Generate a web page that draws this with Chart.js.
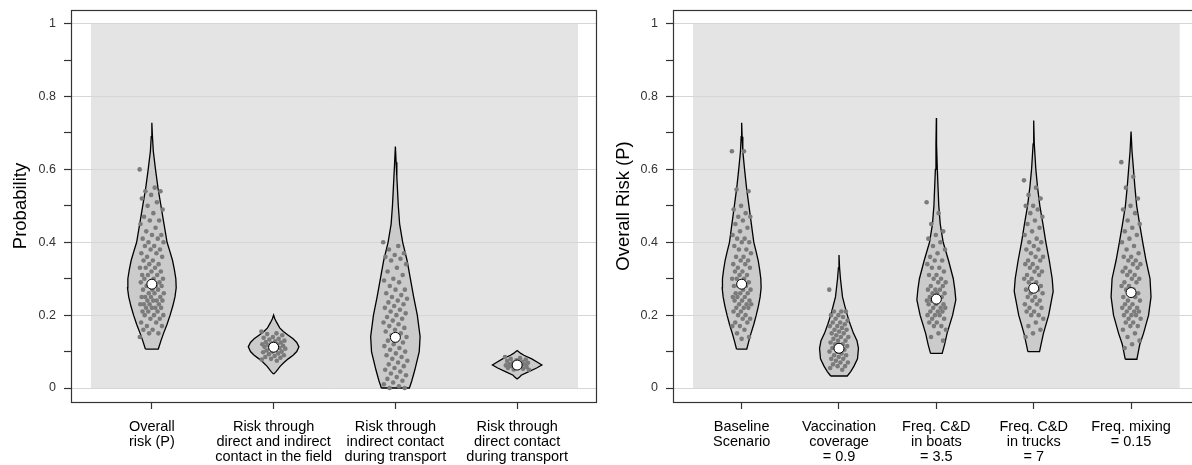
<!DOCTYPE html>
<html>
<head>
<meta charset="utf-8">
<script src="https://cdn.jsdelivr.net/npm/chart.js@4.4.1/dist/chart.umd.min.js"></script>
<style>
  html, body { margin: 0; background: #fff; overflow: hidden; }
  #wrap { position: relative; width: 1192px; height: 465px; overflow: hidden; }
  #left { position: absolute; left: 0; top: 0; }
  #right { position: absolute; left: 600px; top: 0; }
</style>
</head>
<body>
<div id="wrap">
  <canvas id="left" width="602" height="465"></canvas>
  <canvas id="right" width="605" height="465"></canvas>
</div>
<script>
// === Données ===
const leftLabels = [
  ['Overall', 'risk (P)'],
  ['Risk through', 'direct and indirect', 'contact in the field'],
  ['Risk through', 'indirect contact', 'during transport'],
  ['Risk through', 'direct contact', 'during transport']
];
const rightLabels = [
  ['Baseline', 'Scenario'],
  ['Vaccination', 'coverage', '= 0.9'],
  ['Freq. C&D', 'in boats', '= 3.5'],
  ['Freq. C&D', 'in trucks', '= 7'],
  ['Freq. mixing', '= 0.15']
];
const yTicks = [0, 0.1, 0.2, 0.3, 0.4, 0.5, 0.6, 0.7, 0.8, 0.9, 1];

// profils des violons : [valeur, demi-largeur de densité]
const violinOverall = [[0.107,0.053],[0.13,0.075],[0.15,0.096],[0.175,0.125],[0.2,0.15],[0.225,0.172],[0.25,0.19],[0.275,0.2],[0.3,0.197],[0.325,0.185],[0.35,0.17],[0.375,0.148],[0.4,0.125],[0.45,0.1],[0.5,0.075],[0.55,0.05],[0.6,0.03],[0.65,0.012],[0.69,0.005],[0.728,0]];
const violinField = [[0.038,0],[0.045,0.02],[0.06,0.055],[0.07,0.085],[0.08,0.12],[0.09,0.16],[0.1,0.19],[0.113,0.208],[0.125,0.19],[0.135,0.16],[0.145,0.12],[0.155,0.08],[0.165,0.05],[0.18,0.025],[0.19,0.01],[0.2,0]];
const violinIndirect = [[0,0.115],[0.02,0.135],[0.05,0.16],[0.1,0.196],[0.141,0.203],[0.2,0.18],[0.25,0.15],[0.3,0.123],[0.35,0.096],[0.4,0.06],[0.45,0.035],[0.5,0.024],[0.58,0.012],[0.62,0.006],[0.663,0]];
const violinDirect = [[0.025,0],[0.03,0.02],[0.035,0.033],[0.045,0.096],[0.055,0.16],[0.063,0.203],[0.07,0.17],[0.08,0.12],[0.09,0.055],[0.095,0.03],[0.103,0]];
const violinVacc = [[0.033,0.085],[0.045,0.12],[0.06,0.154],[0.08,0.19],[0.109,0.2],[0.13,0.185],[0.15,0.149],[0.175,0.115],[0.2,0.085],[0.225,0.06],[0.25,0.036],[0.3,0.015],[0.33,0.006],[0.365,0]];
const violinBoats = [[0.095,0.06],[0.12,0.085],[0.15,0.11],[0.2,0.167],[0.242,0.2],[0.27,0.19],[0.3,0.174],[0.35,0.125],[0.4,0.07],[0.45,0.04],[0.5,0.025],[0.6,0.01],[0.67,0.004],[0.741,0]];
const violinTrucks = [[0.1,0.06],[0.125,0.08],[0.15,0.1],[0.2,0.154],[0.265,0.2],[0.3,0.19],[0.35,0.16],[0.4,0.125],[0.45,0.095],[0.5,0.063],[0.55,0.04],[0.6,0.022],[0.67,0.006],[0.734,0]];
const violinMixing = [[0.079,0.06],[0.1,0.075],[0.12,0.09],[0.15,0.128],[0.2,0.18],[0.25,0.205],[0.3,0.195],[0.35,0.154],[0.4,0.12],[0.45,0.088],[0.5,0.058],[0.55,0.04],[0.6,0.025],[0.65,0.01],[0.704,0]];

// points (simulations)
const ptsOverallL = [0.60,0.55,0.54,0.54,0.53,0.52,0.51,0.50,0.49,0.48,0.47,0.46,0.46,0.45,0.44,0.43,0.42,0.42,0.41,0.41,0.40,0.40,0.39,0.39,0.38,0.38,0.37,0.37,0.36,0.36,0.35,0.35,0.34,0.34,0.33,0.33,0.33,0.32,0.32,0.31,0.31,0.31,0.30,0.30,0.30,0.29,0.29,0.29,0.28,0.28,0.28,0.27,0.27,0.27,0.26,0.26,0.26,0.25,0.25,0.25,0.25,0.24,0.24,0.24,0.24,0.23,0.23,0.23,0.23,0.22,0.22,0.22,0.22,0.21,0.21,0.21,0.20,0.20,0.20,0.19,0.19,0.18,0.18,0.17,0.17,0.16,0.16,0.15,0.15,0.14];
const ptsField = [0.155,0.15,0.148,0.145,0.14,0.138,0.135,0.133,0.13,0.128,0.126,0.125,0.123,0.12,0.12,0.118,0.116,0.115,0.113,0.11,0.11,0.108,0.105,0.103,0.1,0.1,0.098,0.095,0.093,0.09,0.088,0.085,0.083,0.08,0.078,0.075];
const ptsIndirect = [0.40,0.39,0.38,0.37,0.365,0.36,0.355,0.35,0.34,0.33,0.32,0.31,0.3,0.295,0.29,0.28,0.27,0.27,0.26,0.255,0.25,0.245,0.24,0.235,0.23,0.225,0.22,0.215,0.21,0.205,0.2,0.195,0.19,0.185,0.18,0.175,0.17,0.165,0.16,0.155,0.15,0.145,0.14,0.135,0.13,0.125,0.12,0.115,0.11,0.105,0.1,0.095,0.09,0.085,0.08,0.075,0.07,0.065,0.06,0.055,0.05,0.045,0.04,0.035,0.03,0.025,0.02,0.015,0.01,0.005,0.0,0.0];
const ptsDirect = [0.085,0.082,0.08,0.078,0.076,0.074,0.072,0.07,0.069,0.068,0.066,0.065,0.064,0.062,0.061,0.06,0.058,0.057,0.055,0.053,0.051,0.05];
const ptsOverallR = [0.65,0.65,0.545,0.54,0.5,0.49,0.48,0.47,0.47,0.46,0.45,0.44,0.43,0.42,0.41,0.41,0.40,0.40,0.39,0.38,0.38,0.37,0.36,0.36,0.35,0.35,0.34,0.34,0.33,0.33,0.32,0.32,0.31,0.31,0.30,0.30,0.30,0.29,0.29,0.28,0.28,0.28,0.27,0.27,0.26,0.26,0.26,0.25,0.25,0.25,0.24,0.24,0.24,0.23,0.23,0.23,0.22,0.22,0.22,0.21,0.21,0.20,0.20,0.19,0.19,0.18,0.18,0.17,0.17,0.16,0.15,0.14,0.135];
const ptsVacc = [0.27,0.21,0.21,0.21,0.2,0.2,0.195,0.19,0.185,0.18,0.18,0.175,0.17,0.17,0.165,0.16,0.16,0.155,0.15,0.15,0.145,0.14,0.14,0.135,0.13,0.13,0.125,0.12,0.12,0.115,0.11,0.11,0.105,0.1,0.1,0.095,0.09,0.09,0.085,0.08,0.08,0.075,0.07,0.07,0.065,0.06,0.06,0.055,0.05];
const ptsBoats = [0.51,0.48,0.45,0.43,0.42,0.41,0.40,0.39,0.38,0.37,0.36,0.35,0.35,0.34,0.33,0.33,0.32,0.31,0.31,0.30,0.30,0.29,0.29,0.28,0.28,0.27,0.27,0.27,0.26,0.26,0.26,0.25,0.25,0.25,0.24,0.24,0.24,0.23,0.23,0.23,0.22,0.22,0.22,0.21,0.21,0.21,0.20,0.20,0.20,0.19,0.19,0.18,0.18,0.17,0.17,0.16,0.15,0.14,0.13];
const ptsTrucks = [0.57,0.55,0.53,0.52,0.50,0.50,0.49,0.48,0.47,0.46,0.45,0.44,0.43,0.42,0.41,0.40,0.40,0.39,0.38,0.38,0.37,0.36,0.36,0.35,0.35,0.34,0.34,0.33,0.33,0.32,0.32,0.31,0.31,0.30,0.30,0.29,0.29,0.28,0.28,0.27,0.27,0.26,0.26,0.25,0.25,0.24,0.24,0.23,0.23,0.22,0.22,0.21,0.21,0.20,0.20,0.19,0.18,0.17,0.16,0.15,0.14];
const ptsMixing = [0.62,0.58,0.55,0.52,0.50,0.49,0.48,0.46,0.45,0.44,0.43,0.42,0.41,0.40,0.39,0.38,0.37,0.36,0.36,0.35,0.35,0.34,0.34,0.33,0.33,0.32,0.32,0.31,0.31,0.30,0.30,0.29,0.29,0.28,0.28,0.27,0.27,0.26,0.26,0.25,0.25,0.24,0.24,0.23,0.23,0.22,0.22,0.22,0.21,0.21,0.21,0.20,0.20,0.20,0.19,0.19,0.18,0.18,0.17,0.17,0.16,0.15,0.14,0.13,0.12,0.11];

// moyennes (cercles blancs)
const meansLeft = [0.285, 0.112, 0.139, 0.063];
const meansRight = [0.285, 0.109, 0.244, 0.274, 0.262];

// === Construction ===
function violinPath(profile, c) {
  const left = profile.map(([y, w]) => ({ x: c - w, y: y }));
  const right = profile.slice().reverse().map(([y, w]) => ({ x: c + w, y: y }));
  return left.concat(right, [left[0]]);
}

function jitter(i, jw) {
  return (((i * 0.618034) % 1) * 2 - 1) * jw;
}

const bgPlugin = {
  id: 'panelBg',
  beforeDraw(chart) {
    const { ctx, scales } = chart;
    const n = chart.options.plugins.panelBg.n;
    const x0 = scales.x.getPixelForValue(0.5);
    const x1 = scales.x.getPixelForValue(n + 0.5);
    const y0 = scales.y.getPixelForValue(1);
    const y1 = scales.y.getPixelForValue(0);
    ctx.save();
    ctx.fillStyle = '#e4e4e4';
    ctx.fillRect(x0, y0, x1 - x0, y1 - y0);
    ctx.restore();
  },
  afterDraw(chart) {
    const { ctx, chartArea } = chart;
    ctx.save();
    ctx.strokeStyle = '#333';
    ctx.lineWidth = 1.2;
    ctx.strokeRect(chartArea.left + 0.5, chartArea.top + 0.5, chartArea.right - chartArea.left, chartArea.bottom - chartArea.top);
    ctx.restore();
  }
};

function makePanel(id, labels, violins, pts, means, yTitle, o) {
  const datasets = [];
  datasets.push({
    data: means.map((m, i) => ({ x: i + 1, y: m })),
    pointRadius: 5, pointBackgroundColor: '#fff', pointBorderColor: '#000', pointBorderWidth: 1
  });
  pts.forEach((arr, k) => {
    datasets.push({
      data: arr.map((v, i) => ({ x: k + 1 + jitter(i, 0.1), y: v })),
      pointRadius: 2.3, pointBackgroundColor: '#7b7b7b', pointBorderWidth: 0
    });
  });
  violins.forEach((prof, k) => {
    datasets.push({
      data: violinPath(prof, k + 1),
      showLine: true, pointRadius: 0, borderColor: '#000', borderWidth: 1.3,
      backgroundColor: '#cbcbcb', fill: 'shape', tension: 0
    });
  });

  new Chart(document.getElementById(id), {
    type: 'scatter',
    data: { datasets: datasets },
    plugins: [bgPlugin],
    options: {
      responsive: false,
      animation: false,
      events: [],
      layout: { padding: { top: 10, right: 0, left: 0, bottom: 0 } },
      plugins: {
        legend: { display: false },
        tooltip: { enabled: false },
        panelBg: { n: labels.length }
      },
      scales: {
        x: {
          type: 'linear',
          min: o.xmin, max: o.xmax,
          afterBuildTicks: s => { s.ticks = labels.map((_, i) => ({ value: i + 1 })); },
          afterFit: s => { s.height = 63; s.paddingLeft = 0; s.paddingRight = 0; },
          border: { display: false },
          grid: { drawOnChartArea: false, drawTicks: true, tickLength: 7, tickColor: '#333', tickWidth: 1.2 },
          ticks: {
            autoSkip: false, maxRotation: 0, padding: 10,
            color: '#000',
            font: { family: 'Liberation Sans, Arial', size: 14.5, lineHeight: 1.05 },
            callback: v => labels[Math.round(v) - 1]
          }
        },
        y: {
          type: 'linear',
          min: -0.0384, max: 1.0376,
          afterBuildTicks: s => { s.ticks = yTicks.map(v => ({ value: v })); },
          afterFit: s => { s.width = o.left; s.paddingTop = 0; s.paddingBottom = 0; },
          border: { display: false },
          grid: {
            color: c => (Math.round(c.tick.value * 10) % 2 === 0 ? '#d6d6d6' : 'rgba(0,0,0,0)'),
            lineWidth: 1, tickColor: '#333', tickLength: 7, tickWidth: 1.2
          },
          ticks: {
            padding: 8, color: '#333',
            font: { family: 'Liberation Sans, Arial', size: 12.5 },
            callback: v => (Math.round(v * 10) % 2 === 0 ? String(Math.round(v * 10) / 10) : '')
          },
          title: {
            display: true, text: yTitle, color: '#000',
            font: { family: 'Liberation Sans, Arial', size: 18.5 },
            padding: { top: o.titlePad, bottom: 0 }
          }
        }
      }
    }
  });
}

makePanel('left', leftLabels,
  [violinOverall, violinField, violinIndirect, violinDirect],
  [ptsOverallL, ptsField, ptsIndirect, ptsDirect],
  meansLeft, 'Probability',
  { left: 71, xmin: 0.5 - 20 / 122, xmax: 4.5 + 18 / 122, titlePad: 10 });

makePanel('right', rightLabels,
  [violinOverall, violinVacc, violinBoats, violinTrucks, violinMixing],
  [ptsOverallR, ptsVacc, ptsBoats, ptsTrucks, ptsMixing],
  meansRight, 'Overall Risk (P)',
  { left: 73, xmin: 0.5 - 20 / 97.5, xmax: 5.5 + 19.3 / 97.5, titlePad: 13 });
</script>
</body>
</html>
